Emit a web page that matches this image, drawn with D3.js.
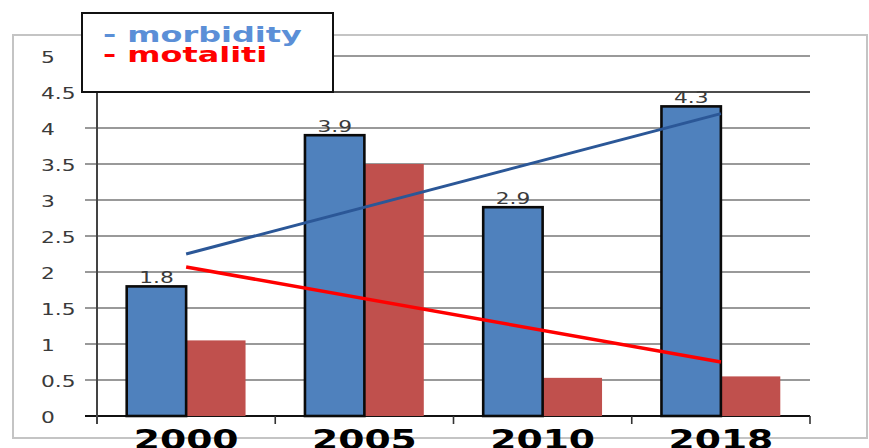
<!DOCTYPE html>
<html>
<head>
<meta charset="utf-8">
<script src="https://cdn.jsdelivr.net/npm/d3@7"></script>
<style>
  html, body { margin: 0; padding: 0; background: #fff; }
  svg { display: block; font-family: "DejaVu Sans", Verdana, sans-serif; }
</style>
</head>
<body>
<svg id="chart" width="869" height="448"></svg>
<script>
// data
const years      = ["2000", "2005", "2010", "2018"]
const seriesKeys = ["morbidity", "motaliti"]
const morbidity  = [1.8, 3.9, 2.9, 4.3]
const motaliti   = [1.05, 3.5, 0.53, 0.55]
// the two straight lines run from the first year to the last
const morbidityLine = [2.25, 4.2]
const motalitiLine  = [2.07, 0.75]
const yTicks     = [0, 0.5, 1, 1.5, 2, 2.5, 3, 3.5, 4, 4.5, 5]
const yTickText  = ["0", "0.5", "1", "1.5", "2", "2.5", "3", "3.5", "4", "4.5", "5"]

const svg = d3.select("#chart")
const SX = 1.45   // the picture is stretched sideways, text too

const x0 = d3.scaleBand().domain(years).range([97, 810]).padding(0)
const x1 = d3.scaleBand().domain(seriesKeys).range([0, x0.bandwidth()])
             .paddingInner(0).paddingOuter(0.5)
const y  = d3.scaleLinear().domain([0, 5]).range([416, 56])

const colors = { morbidity: "#4f81bd", motaliti: "#c0504d" }

function stretchedText(g, x, yy, txt, anchor) {
  return g.append("g").attr("transform", `translate(${x},${yy})`)
    .append("text")
    .attr("transform", `scale(${SX},1)`)
    .attr("text-anchor", anchor)
    .text(txt)
}

// outer frame
svg.append("rect")
  .attr("x", 13).attr("y", 35).attr("width", 854).attr("height", 403)
  .attr("fill", "none").attr("stroke", "#c4c4c4").attr("stroke-width", 2)

// grid lines
svg.append("g").selectAll("line")
  .data(yTicks)
  .join("line")
  .attr("x1", 85).attr("x2", x0.range()[1])
  .attr("y1", d => y(d)).attr("y2", d => y(d))
  .attr("stroke", d => (d === 0 || d === 4.5) ? "#111" : "#777")
  .attr("stroke-width", d => d === 0 ? 2 : 1.6)

// y labels
const yl = svg.append("g").attr("font-size", 15).attr("fill", "#3a3a3a")
yTicks.forEach((v, i) => stretchedText(yl, 41, y(v) + 6.5, yTickText[i], "start"))

// category ticks
const bounds = years.map(c => x0(c)).concat([x0.range()[1]])
svg.append("g").selectAll("line")
  .data(bounds)
  .join("line")
  .attr("x1", d => d).attr("x2", d => d)
  .attr("y1", y(0)).attr("y2", y(0) + 8)
  .attr("stroke", "#333").attr("stroke-width", 1.6)

// y axis
svg.append("line")
  .attr("x1", x0.range()[0]).attr("x2", x0.range()[0])
  .attr("y1", y(4.5)).attr("y2", y(0) + 8)
  .attr("stroke", "#444").attr("stroke-width", 2)

// bars (red first so the black outline of blue stays on top)
svg.append("g").selectAll("rect")
  .data(years.map((c, i) => ({ c, v: motaliti[i] })))
  .join("rect")
  .attr("x", d => x0(d.c) + x1("motaliti"))
  .attr("width", x1.bandwidth())
  .attr("y", d => y(d.v))
  .attr("height", d => y(0) - y(d.v))
  .attr("fill", colors.motaliti)

svg.append("g").selectAll("rect")
  .data(years.map((c, i) => ({ c, v: morbidity[i] })))
  .join("rect")
  .attr("x", d => x0(d.c) + x1("morbidity"))
  .attr("width", x1.bandwidth())
  .attr("y", d => y(d.v))
  .attr("height", d => y(0) - y(d.v))
  .attr("fill", colors.morbidity)
  .attr("stroke", "#0a0a0a").attr("stroke-width", 2.6)

// value labels over the blue bars
const vl = svg.append("g").attr("font-size", 15).attr("fill", "#3a3a3a")
years.forEach((c, i) => {
  stretchedText(vl, x0(c) + x1("morbidity") + x1.bandwidth() / 2,
    y(morbidity[i]) - 3, String(morbidity[i]), "middle")
})

// straight lines
const first = years[0], last = years[years.length - 1]
const cx = c => x0(c) + x0.bandwidth() / 2
svg.append("line")
  .attr("x1", cx(first)).attr("y1", y(morbidityLine[0]))
  .attr("x2", cx(last)).attr("y2", y(morbidityLine[1]))
  .attr("stroke", "#2b5797").attr("stroke-width", 3)
svg.append("line")
  .attr("x1", cx(first)).attr("y1", y(motalitiLine[0]))
  .attr("x2", cx(last)).attr("y2", y(motalitiLine[1]))
  .attr("stroke", "#ff0000").attr("stroke-width", 3.5)

// x labels
const xl = svg.append("g").attr("font-size", 26).attr("font-weight", "bold").attr("fill", "#000")
years.forEach(c => stretchedText(xl, cx(c), 449, c, "middle"))

// legend box
svg.append("rect")
  .attr("x", 82).attr("y", 13).attr("width", 251).attr("height", 79)
  .attr("fill", "#fff").attr("stroke", "#111").attr("stroke-width", 2)
const lg = svg.append("g").attr("font-size", 22).attr("font-weight", "bold")
stretchedText(lg, 103, 42, "- morbidity", "start").attr("fill", "#5b8fd7")
stretchedText(lg, 103, 62, "- motaliti", "start").attr("fill", "#ff0000")
</script>
</body>
</html>
